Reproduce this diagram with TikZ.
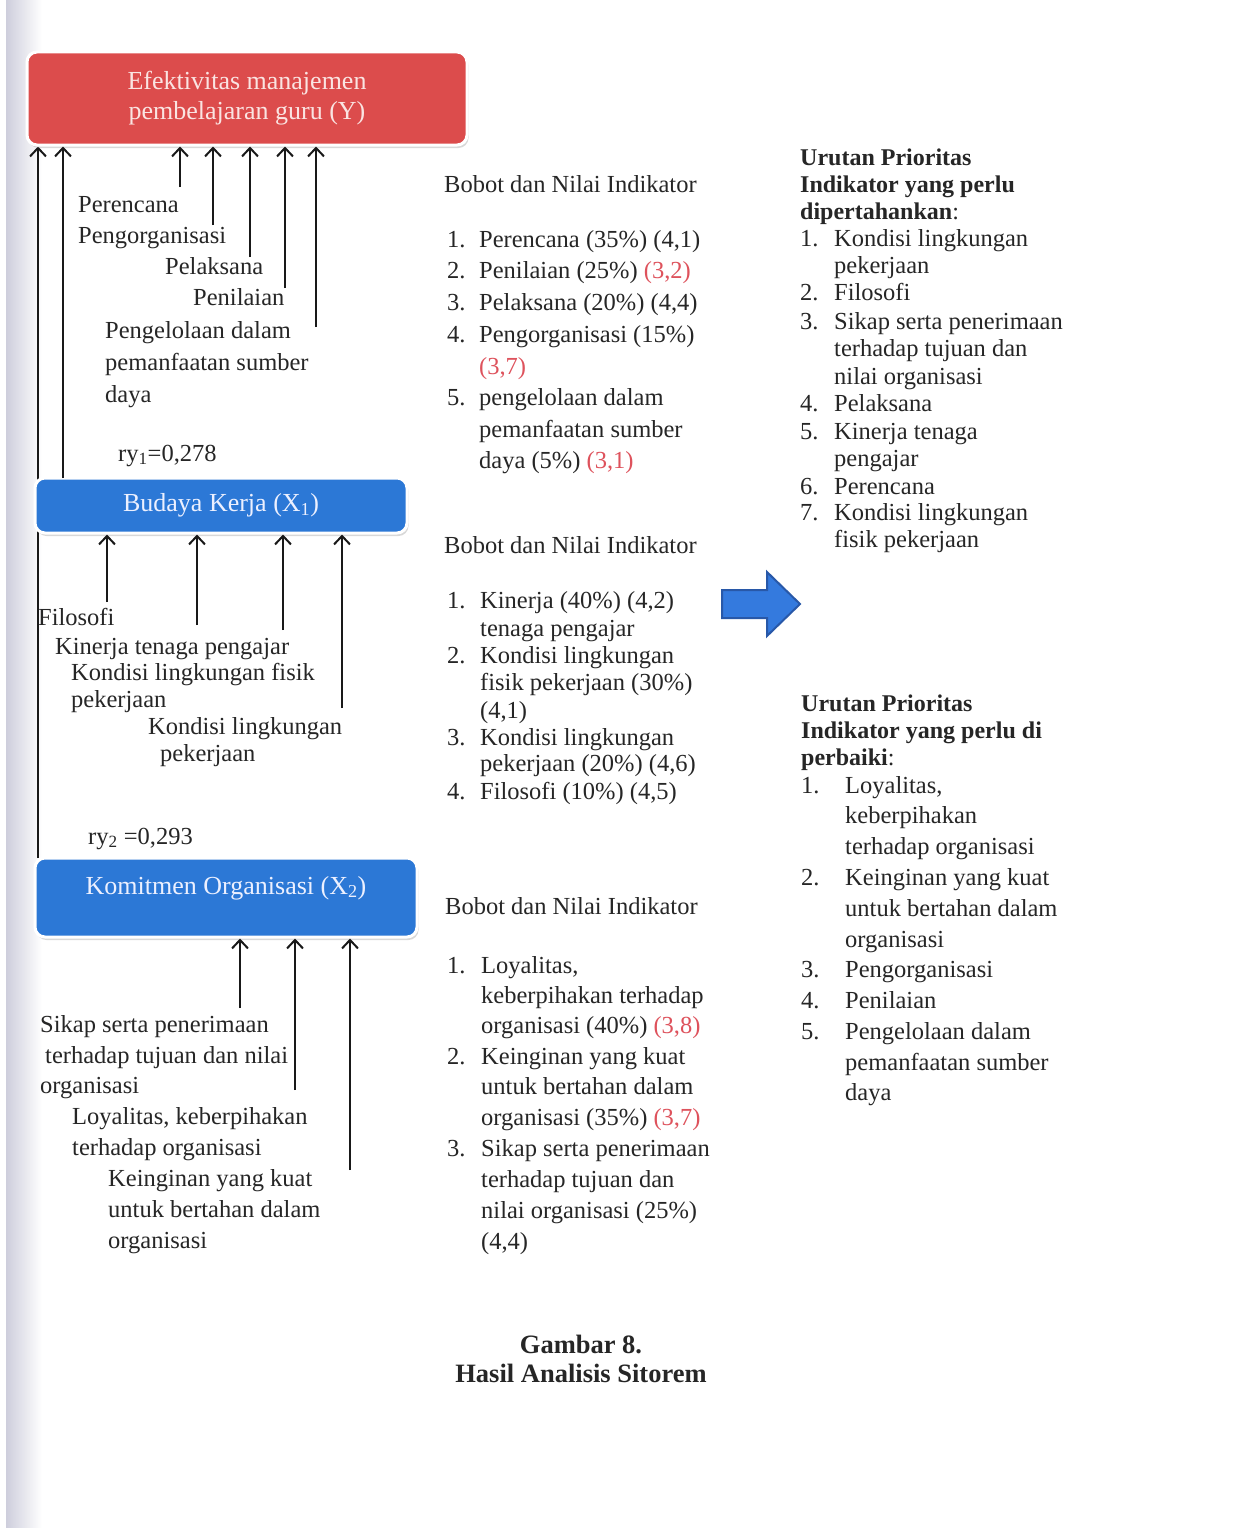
\documentclass[tikz,border=0pt]{standalone}
\usepackage{fontspec}
\setmainfont{Liberation Serif}
\usetikzlibrary{arrows.meta,shadows,backgrounds}

\definecolor{TextGray}{RGB}{38,38,38}
\definecolor{RedNum}{RGB}{222,82,92}
\definecolor{RedBox}{RGB}{220,76,76}
\definecolor{RedText}{RGB}{250,228,226}
\definecolor{BlueBox}{RGB}{44,120,214}
\definecolor{BlueText}{RGB}{236,240,255}
\definecolor{ArrowBlue}{RGB}{52,122,222}
\definecolor{ArrowEdge}{RGB}{40,88,168}
\definecolor{StripGray}{RGB}{206,206,220}
\definecolor{LineBlack}{RGB}{25,25,25}

\newcommand\Ln[4]{\node[txt] (#1) at (#2,-#3) {#4};}
\newcommand\Rd[1]{\textcolor{RedNum}{#1}}

\begin{document}
\begin{tikzpicture}[x=1pt,y=1pt,
  txt/.style={anchor=base west, inner sep=0pt, text=TextGray, font=\fontsize{24.5}{30}\selectfont},
  bld/.style={txt, font=\fontsize{24}{30}\selectfont\bfseries},
  captext/.style={anchor=base, inner sep=0pt, text=TextGray, font=\fontsize{26.5}{30}\selectfont\bfseries},
  boxbase/.style={rounded corners=10pt, draw=white, line width=3pt, inner sep=0pt,
    drop shadow={shadow xshift=1.5pt, shadow yshift=-3pt, opacity=0.3, fill=gray}},
  ybox/.style={boxbase, fill=RedBox, text=RedText, align=center, font=\fontsize{26}{30}\selectfont},
  bbox/.style={boxbase, fill=BlueBox, text=BlueText, font=\fontsize{26}{30}\selectfont},
  arr/.style={draw=LineBlack, line width=2pt, -{Straight Barb[length=8.5pt,width=16pt]}}
]
\useasboundingbox (0,0) rectangle (1248,-1528);
\begin{pgfonlayer}{background}
  \fill[white] (0,0) rectangle (1248,-1528);
  \shade[left color=StripGray, right color=white] (6,0) rectangle (42,-1528);
\end{pgfonlayer}

% boxes
\node[ybox, minimum width=440, minimum height=93] (Y) at (247,-98.5) {Efektivitas manajemen\\pembelajaran guru (Y)};
\node[bbox, minimum width=372, minimum height=55] (B) at (221,-505.5) {Budaya Kerja (X\textsubscript{1})};
\node[bbox, minimum width=382, minimum height=79, text height=18pt, text depth=25pt] (K) at (226,-897.5) {Komitmen Organisasi (X\textsubscript{2})};

% long connectors
\coordinate (kl) at (38,-858);
\coordinate (bl) at (63,-478);
\begin{pgfonlayer}{background}
  \draw[arr] (kl) -- (kl |- Y.south);
\end{pgfonlayer}
\draw[arr] (bl) -- (bl |- Y.south);

% arrows into Y
\coordinate (ya) at (180,-187);
\coordinate (yb) at (213,-225);
\coordinate (yc) at (250,-257);
\coordinate (yd) at (285,-288);
\coordinate (ye) at (316,-327);
\foreach \c in {ya,yb,yc,yd,ye} \draw[arr] (\c) -- (\c |- Y.south);

% arrows into B
\coordinate (ba) at (107,-602);
\coordinate (bb) at (197,-625);
\coordinate (bc) at (283,-630);
\coordinate (bd) at (342,-708);
\foreach \c in {ba,bb,bc,bd} \draw[arr] (\c) -- (\c |- B.south);

% arrows into K
\coordinate (ka) at (240,-1008);
\coordinate (kb) at (295,-1090);
\coordinate (kc) at (350,-1170);
\foreach \c in {ka,kb,kc} \draw[arr] (\c) -- (\c |- K.south);

% left labels (Y)
\Ln{lya}{78}{212}{Perencana}
\Ln{lyb}{78}{243}{Pengorganisasi}
\Ln{lyc}{165}{274}{Pelaksana}
\Ln{lyd}{193}{305}{Penilaian}
\Ln{lye}{105}{338}{Pengelolaan dalam}
\Ln{lyf}{105}{370}{pemanfaatan sumber}
\Ln{lyg}{105}{402}{daya}
\Ln{ry1}{118}{461}{ry\textsubscript{1}=0,278}

% left labels (B)
\Ln{lba}{38}{625}{Filosofi}
\Ln{lbb}{55}{654}{Kinerja tenaga pengajar}
\Ln{lbc}{71}{680}{Kondisi lingkungan fisik}
\Ln{lbd}{71}{707}{pekerjaan}
\Ln{lbe}{148}{734}{Kondisi lingkungan}
\Ln{lbf}{160}{761}{pekerjaan}
\Ln{ry2}{88}{844}{ry\textsubscript{2} =0,293}

% left labels (K)
\Ln{lka}{40}{1032}{Sikap serta penerimaan}
\Ln{lkb}{45}{1063}{terhadap tujuan dan nilai}
\Ln{lkc}{40}{1093}{organisasi}
\Ln{lkd}{72}{1124}{Loyalitas, keberpihakan}
\Ln{lke}{72}{1155}{terhadap organisasi}
\Ln{lkf}{108}{1186}{Keinginan yang kuat}
\Ln{lkg}{108}{1217}{untuk bertahan dalam}
\Ln{lkh}{108}{1248}{organisasi}

% middle list 1
\Ln{h1}{444}{192}{Bobot dan Nilai Indikator}
\Ln{m1n1}{447}{247}{1.}\Ln{m1a}{479}{247}{Perencana (35\%) (4,1)}
\Ln{m1n2}{447}{278}{2.}\Ln{m1b}{479}{278}{Penilaian (25\%) \Rd{(3,2)}}
\Ln{m1n3}{447}{310}{3.}\Ln{m1c}{479}{310}{Pelaksana (20\%) (4,4)}
\Ln{m1n4}{447}{342}{4.}\Ln{m1d}{479}{342}{Pengorganisasi (15\%)}
\Ln{m1e}{479}{374}{\Rd{(3,7)}}
\Ln{m1n5}{447}{405}{5.}\Ln{m1f}{479}{405}{pengelolaan dalam}
\Ln{m1g}{479}{437}{pemanfaatan sumber}
\Ln{m1h}{479}{468}{daya (5\%) \Rd{(3,1)}}

% middle list 2
\Ln{h2}{444}{553}{Bobot dan Nilai Indikator}
\Ln{m2n1}{447}{608}{1.}\Ln{m2a}{480}{608}{Kinerja (40\%) (4,2)}
\Ln{m2b}{480}{636}{tenaga pengajar}
\Ln{m2n2}{447}{663}{2.}\Ln{m2c}{480}{663}{Kondisi lingkungan}
\Ln{m2d}{480}{690}{fisik pekerjaan (30\%)}
\Ln{m2e}{480}{718}{(4,1)}
\Ln{m2n3}{447}{745}{3.}\Ln{m2f}{480}{745}{Kondisi lingkungan}
\Ln{m2g}{480}{771}{pekerjaan (20\%) (4,6)}
\Ln{m2n4}{447}{799}{4.}\Ln{m2h}{480}{799}{Filosofi (10\%) (4,5)}

% middle list 3
\Ln{h3}{445}{914}{Bobot dan Nilai Indikator}
\Ln{m3n1}{447}{973}{1.}\Ln{m3a}{481}{973}{Loyalitas,}
\Ln{m3b}{481}{1003}{keberpihakan terhadap}
\Ln{m3c}{481}{1033}{organisasi (40\%) \Rd{(3,8)}}
\Ln{m3n2}{447}{1064}{2.}\Ln{m3d}{481}{1064}{Keinginan yang kuat}
\Ln{m3e}{481}{1094}{untuk bertahan dalam}
\Ln{m3f}{481}{1125}{organisasi (35\%) \Rd{(3,7)}}
\Ln{m3n3}{447}{1156}{3.}\Ln{m3g}{481}{1156}{Sikap serta penerimaan}
\Ln{m3h}{481}{1187}{terhadap tujuan dan}
\Ln{m3i}{481}{1218}{nilai organisasi (25\%)}
\Ln{m3j}{481}{1249}{(4,4)}

% big arrow
\draw[fill=ArrowBlue, draw=ArrowEdge, line width=2pt, line join=miter]
  (722,-590) -- (767,-590) -- (767,-572) -- (800,-604) -- (767,-636) -- (767,-618) -- (722,-618) -- cycle;

% right list 1
\node[bld] (r1h1) at (800,-165) {Urutan Prioritas};
\node[bld] (r1h2) at (800,-192) {Indikator yang perlu};
\node[bld] (r1h3) at (800,-219) {dipertahankan\mdseries:};
\Ln{r1n1}{800}{246}{1.}\Ln{r1a}{834}{246}{Kondisi lingkungan}
\Ln{r1b}{834}{273}{pekerjaan}
\Ln{r1n2}{800}{300}{2.}\Ln{r1c}{834}{300}{Filosofi}
\Ln{r1n3}{800}{329}{3.}\Ln{r1d}{834}{329}{Sikap serta penerimaan}
\Ln{r1e}{834}{356}{terhadap tujuan dan}
\Ln{r1f}{834}{384}{nilai organisasi}
\Ln{r1n4}{800}{411}{4.}\Ln{r1g}{834}{411}{Pelaksana}
\Ln{r1n5}{800}{439}{5.}\Ln{r1h}{834}{439}{Kinerja tenaga}
\Ln{r1i}{834}{466}{pengajar}
\Ln{r1n6}{800}{494}{6.}\Ln{r1j}{834}{494}{Perencana}
\Ln{r1n7}{800}{520}{7.}\Ln{r1k}{834}{520}{Kondisi lingkungan}
\Ln{r1l}{834}{547}{fisik pekerjaan}

% right list 2
\node[bld] (r2h1) at (801,-711) {Urutan Prioritas};
\node[bld] (r2h2) at (801,-738) {Indikator yang perlu di};
\node[bld] (r2h3) at (801,-765) {perbaiki\mdseries:};
\Ln{r2n1}{801}{793}{1.}\Ln{r2a}{845}{793}{Loyalitas,}
\Ln{r2b}{845}{823}{keberpihakan}
\Ln{r2c}{845}{854}{terhadap organisasi}
\Ln{r2n2}{801}{885}{2.}\Ln{r2d}{845}{885}{Keinginan yang kuat}
\Ln{r2e}{845}{916}{untuk bertahan dalam}
\Ln{r2f}{845}{947}{organisasi}
\Ln{r2n3}{801}{977}{3.}\Ln{r2g}{845}{977}{Pengorganisasi}
\Ln{r2n4}{801}{1008}{4.}\Ln{r2h}{845}{1008}{Penilaian}
\Ln{r2n5}{801}{1039}{5.}\Ln{r2i}{845}{1039}{Pengelolaan dalam}
\Ln{r2j}{845}{1070}{pemanfaatan sumber}
\Ln{r2k}{845}{1100}{daya}

% caption
\node[captext] (cap1) at (581,-1353) {Gambar 8.};
\node[captext] (cap2) at (581,-1382) {Hasil Analisis Sitorem};
\end{tikzpicture}
\end{document}
